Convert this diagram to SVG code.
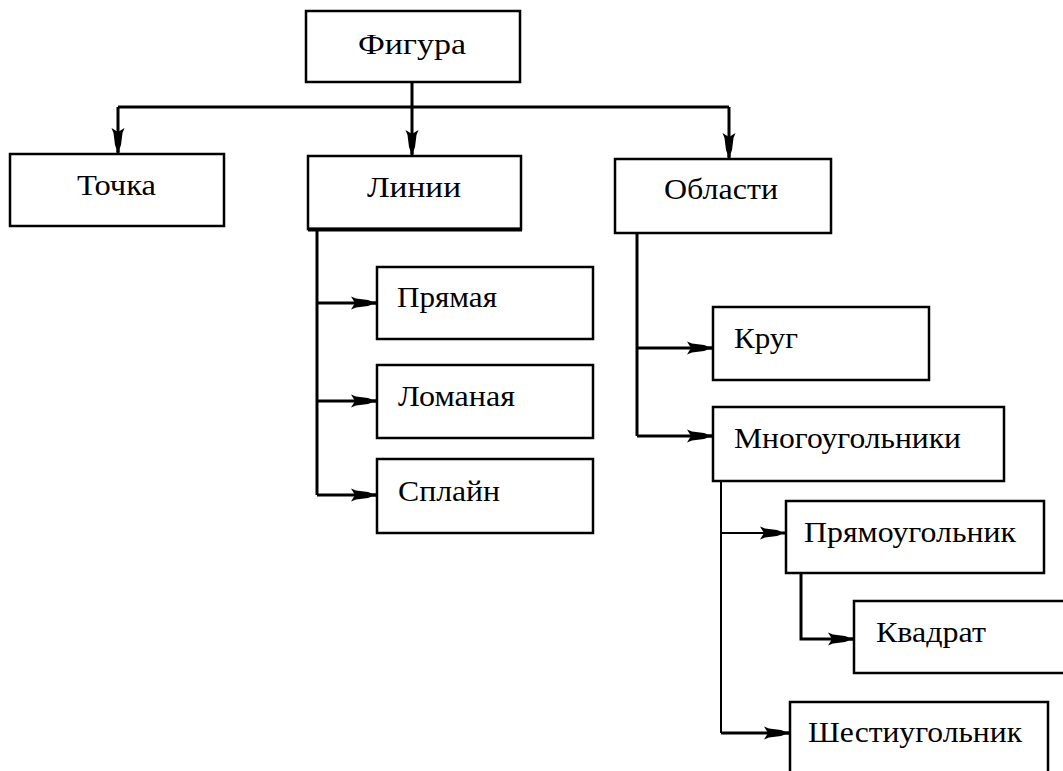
<svg xmlns="http://www.w3.org/2000/svg" width="1063" height="771" viewBox="0 0 1063 771">
<style>
.box{fill:#fff;stroke:#000;stroke-width:2.5}
.lbl{font-family:"Liberation Serif","DejaVu Serif",serif;font-size:30px;fill:#000}
.c{fill:none;stroke:#000;stroke-width:3}
.c2{fill:none;stroke:#000;stroke-width:2}
.ah{fill:#000}
</style>
<defs>
<path id="ar" d="M0,-1.5 L-5,-1.5 L-9,-3 L-21,-4.5 L-26,-6.5 L-22,0 L-26,6.5 L-21,4.5 L-9,3 L-5,1.5 L0,1.5 Z"/>
</defs>
<rect width="1063" height="771" fill="#fff"/>
<g id="connectors">
<path class="c" d="M412,82 V154 M118,107 H729 M118,107 V152 M729,107 V157"/>
<path class="c" d="M317,230 V495 M317,303 H376 M317,401 H376 M317,495 H376"/>
<path class="c" d="M637,233 V436 M637,348 H712 M637,436 H712"/>
<path class="c2" d="M721,481 V733 M721,533 H785"/>
<path class="c" d="M721,733 H789"/>
<path class="c" d="M801,573 V639 H853"/>
<g class="ah">
<use href="#ar" transform="translate(118,154) rotate(90)"/>
<use href="#ar" transform="translate(412,156) rotate(90)"/>
<use href="#ar" transform="translate(729,159) rotate(90)"/>
<use href="#ar" transform="translate(377,303)"/>
<use href="#ar" transform="translate(377,401)"/>
<use href="#ar" transform="translate(377,495)"/>
<use href="#ar" transform="translate(713,348)"/>
<use href="#ar" transform="translate(713,436)"/>
<use href="#ar" transform="translate(786,533)"/>
<use href="#ar" transform="translate(854,639)"/>
<use href="#ar" transform="translate(790,733)"/>
</g>
</g>
<g id="figura"><rect class="box" x="306" y="11" width="214" height="71"/><text class="lbl" x="358" y="54" textLength="108" lengthAdjust="spacingAndGlyphs">Фигура</text></g>
<g id="tochka"><rect class="box" x="10" y="154" width="214" height="72"/><text class="lbl" x="77" y="195" textLength="79" lengthAdjust="spacingAndGlyphs">Точка</text></g>
<g id="linii"><rect class="box" x="308" y="156" width="213" height="73"/><line x1="308" y1="229.5" x2="522" y2="229.5" stroke="#000" stroke-width="4"/><text class="lbl" x="367" y="197" textLength="94" lengthAdjust="spacingAndGlyphs">Линии</text></g>
<g id="oblasti"><rect class="box" x="615" y="159" width="216" height="74"/><text class="lbl" x="664" y="199" textLength="114" lengthAdjust="spacingAndGlyphs">Области</text></g>
<g id="pryamaya"><rect class="box" x="377" y="267" width="216" height="72"/><text class="lbl" x="397" y="307" textLength="100" lengthAdjust="spacingAndGlyphs">Прямая</text></g>
<g id="lomanaya"><rect class="box" x="377" y="365" width="216" height="73"/><text class="lbl" x="398" y="406" textLength="117" lengthAdjust="spacingAndGlyphs">Ломаная</text></g>
<g id="splain"><rect class="box" x="377" y="459" width="216" height="74"/><text class="lbl" x="398" y="501" textLength="102" lengthAdjust="spacingAndGlyphs">Сплайн</text></g>
<g id="krug"><rect class="box" x="713" y="307" width="216" height="73"/><text class="lbl" x="734" y="348" textLength="64" lengthAdjust="spacingAndGlyphs">Круг</text></g>
<g id="mnogougolniki"><rect class="box" x="713" y="407" width="291" height="74"/><text class="lbl" x="734" y="448" textLength="227" lengthAdjust="spacingAndGlyphs">Многоугольники</text></g>
<g id="pryamougolnik"><rect class="box" x="786" y="501" width="258" height="72"/><text class="lbl" x="804" y="542" textLength="212" lengthAdjust="spacingAndGlyphs">Прямоугольник</text></g>
<g id="kvadrat"><rect class="box" x="854" y="601" width="220" height="72"/><text class="lbl" x="876" y="642" textLength="110" lengthAdjust="spacingAndGlyphs">Квадрат</text></g>
<g id="shestiugolnik"><rect class="box" x="790" y="702" width="258" height="80"/><text class="lbl" x="808" y="742" textLength="214" lengthAdjust="spacingAndGlyphs">Шестиугольник</text></g>
</svg>
